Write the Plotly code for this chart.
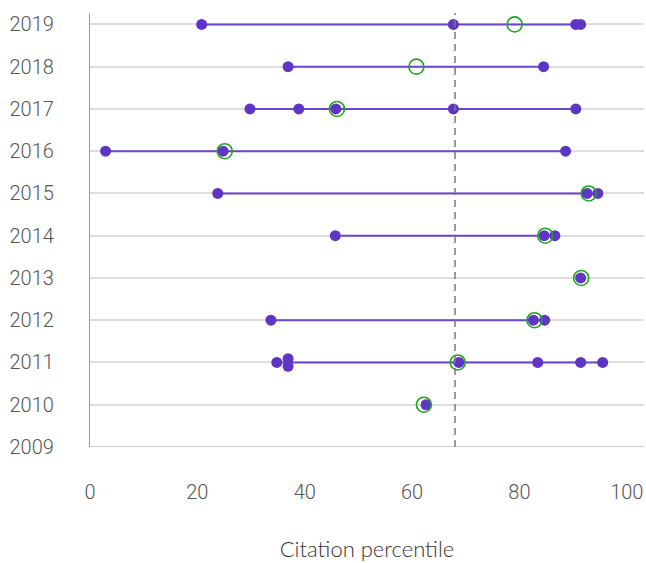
import plotly.graph_objects as go

# Citation percentiles of individual papers, by publication year
years = [2019, 2018, 2017, 2016, 2015, 2014, 2013, 2012, 2011, 2010]
paper_percentiles = [
    [20.8, 67.7, 90.5, 91.4],
    [36.9, 84.5],
    [29.8, 38.9, 45.8, 67.7, 90.5],
    [2.9, 24.8, 88.6],
    [23.8, 92.6, 94.6],
    [45.7, 84.6, 86.6],
    [91.4],
    [33.7, 82.6, 84.7],
    [34.8, 36.9, 36.9, 68.7, 83.4, 91.4, 95.5],
    [62.6],
]
# Summary percentile for each year (open green marker)
year_summary = [79.1, 60.8, 46.0, 25.1, 92.9, 84.8, 91.5, 82.8, 68.5, 62.2]
# Overall reference percentile (dashed line)
overall_reference = 68.0

y_ticks = list(range(2009, 2020))

PURPLE = "#5f35c6"
LINE_PURPLE = "#6c45d0"
GREEN = "#1fa51f"
TICK_FONT = dict(family="Roboto", size=20, color="#555", weight=300)

fig = go.Figure()

for year, vals, summ in zip(years, paper_percentiles, year_summary):
    # range line between lowest and highest paper
    if len(vals) > 1:
        fig.add_trace(go.Scatter(
            x=[min(vals), max(vals)], y=[year, year], mode="lines",
            line=dict(color=LINE_PURPLE, width=2), hoverinfo="skip",
            showlegend=False))
    # spread identical values vertically so stacked papers stay visible
    ys = []
    counts = {}
    for v in vals:
        counts[v] = counts.get(v, 0) + 1
    seen = {}
    for v in vals:
        n = counts[v]
        k = seen.get(v, 0)
        seen[v] = k + 1
        offset = 0.0 if n == 1 else (k - (n - 1) / 2) * 0.18
        ys.append(year + offset)
    fig.add_trace(go.Scatter(
        x=vals, y=ys, mode="markers",
        marker=dict(color=PURPLE, size=11, line=dict(width=0)),
        showlegend=False, hovertemplate="%{x}<extra>" + str(year) + "</extra>"))
    fig.add_trace(go.Scatter(
        x=[summ], y=[year], mode="markers",
        marker=dict(symbol="circle-open", color=GREEN, size=15,
                    line=dict(color=GREEN, width=1.6)),
        showlegend=False, hovertemplate="%{x}<extra>" + str(year) + "</extra>"))

fig.add_shape(type="line", xref="x", yref="paper",
              x0=overall_reference, x1=overall_reference, y0=0, y1=1,
              line=dict(color="#7a7a7a", width=1.5, dash="7px,5px"),
              layer="above")

fig.update_layout(
    width=646, height=563,
    margin=dict(l=90, r=2, t=13, b=116),
    plot_bgcolor="white", paper_bgcolor="white",
    font=dict(family="Roboto", color="#555"),
    xaxis=dict(
        range=[0, 103.2], tickvals=[0, 20, 40, 60, 80, 100],
        showgrid=False, zeroline=False, showline=False,
        ticks="", ticklabelstandoff=31,
        tickfont=TICK_FONT,
        title=dict(text="Citation percentile", standoff=38,
                   font=dict(family="Lato", size=22, color="#333",
                             weight=300)),
    ),
    yaxis=dict(
        range=[2009, 2019.27], tickvals=y_ticks,
        showgrid=True, gridcolor="#dedede", gridwidth=1.5,
        zeroline=False, showline=True, linecolor="#9a9a9a", linewidth=1.2,
        ticks="", ticklabelstandoff=31,
        tickfont=TICK_FONT,
    ),
)

# x axis baseline along 2009
fig.add_shape(type="line", xref="paper", yref="y", x0=0, x1=1,
              y0=2009, y1=2009, line=dict(color="#9a9a9a", width=1.2))

fig.write_html("out.html")
